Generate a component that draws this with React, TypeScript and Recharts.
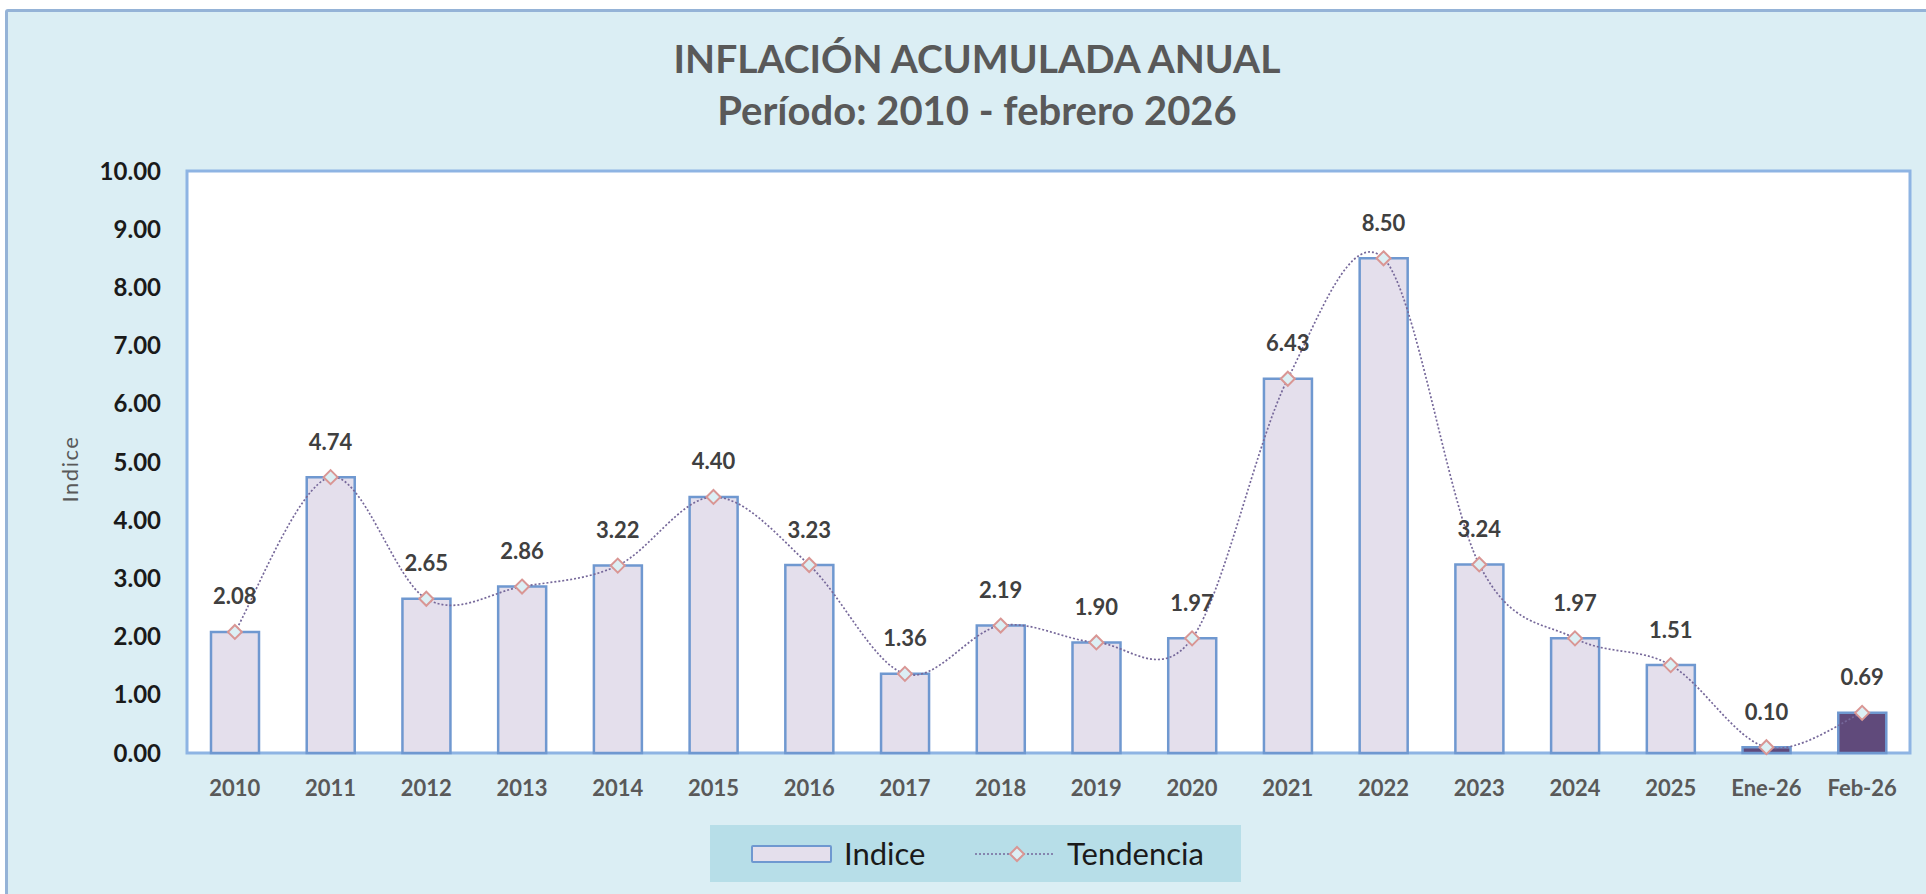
import React from 'react';
import { ComposedChart, Bar, Line, XAxis, YAxis, CartesianGrid, ReferenceArea, Cell, LabelList } from 'recharts';

const categories = ['2010', '2011', '2012', '2013', '2014', '2015', '2016', '2017', '2018', '2019', '2020', '2021', '2022', '2023', '2024', '2025', 'Ene-26', 'Feb-26'];
const indice = [2.08, 4.74, 2.65, 2.86, 3.22, 4.40, 3.23, 1.36, 2.19, 1.90, 1.97, 6.43, 8.50, 3.24, 1.97, 1.51, 0.10, 0.69];
const highlighted = ['Ene-26', 'Feb-26'];
const yTicks = [0, 1, 2, 3, 4, 5, 6, 7, 8, 9, 10];

const data = categories.map((c, i) => ({ cat: c, v: indice[i] }));

const FONT = 'Lato, Carlito, Calibri, sans-serif';

// Excel-style smoothed line (Catmull-Rom via cubic Bezier)
const excelCurve = (context: any) => {
  let pts: number[][] = [];
  return {
    areaStart() {},
    areaEnd() {},
    lineStart() { pts = []; },
    point(x: number, y: number) { pts.push([+x, +y]); },
    lineEnd() {
      const n = pts.length;
      if (!n) return;
      context.moveTo(pts[0][0], pts[0][1]);
      const t = 1 / 6;
      for (let i = 0; i < n - 1; i++) {
        const p0 = pts[i - 1] || pts[i];
        const p1 = pts[i];
        const p2 = pts[i + 1];
        const p3 = pts[i + 2] || p2;
        context.bezierCurveTo(
          p1[0] + (p2[0] - p0[0]) * t, p1[1] + (p2[1] - p0[1]) * t,
          p2[0] - (p3[0] - p1[0]) * t, p2[1] - (p3[1] - p1[1]) * t,
          p2[0], p2[1]
        );
      }
    },
  };
};

const Diamond = (props: any) => {
  const { cx, cy, index } = props;
  if (cx == null || cy == null) return <g key={'d' + index} />;
  const r = 7;
  return (
    <polygon
      key={'d' + index}
      points={`${cx},${cy - r} ${cx + r},${cy} ${cx},${cy + r} ${cx - r},${cy}`}
      fill="#DCEFF4"
      stroke="#D99694"
      strokeWidth={2}
    />
  );
};

const renderLabel = (p: any) => {
  const x = p.x ?? p.viewBox?.x;
  const y = p.y ?? p.viewBox?.y;
  if (x == null || y == null) return null;
  return (
    <text
      key={'l' + p.index}
      x={x}
      y={y - 36}
      textAnchor="middle"
      dominantBaseline="central"
      fontFamily={FONT}
      fontWeight={700}
      fontSize={22}
      fill="#404040"
    >
      {Number(p.value).toFixed(2)}
    </text>
  );
};

export default function App() {
  return (
    <div style={{ position: 'fixed', left: 0, top: 0, width: 1926, height: 894, overflow: 'hidden', background: '#fff' }}>
      <div
        style={{
          position: 'absolute', left: 5, top: 9, width: 2000, height: 1000,
          border: '3px solid #95B3D7', borderRadius: 3, background: '#DBEEF4', boxSizing: 'border-box',
        }}
      />
      <div style={{ position: 'absolute', left: 0, width: 1954, top: 36, height: 44, lineHeight: '44px', textAlign: 'center', fontFamily: FONT, fontWeight: 700, fontSize: 39, color: '#595959' }}>
        INFLACIÓN ACUMULADA ANUAL
      </div>
      <div style={{ position: 'absolute', left: 0, width: 1954, top: 88, height: 44, lineHeight: '44px', textAlign: 'center', fontFamily: FONT, fontWeight: 700, fontSize: 40, color: '#595959' }}>
        Período: 2010 - febrero 2026
      </div>
      <div style={{ position: 'absolute', left: 70, top: 469, width: 0, height: 0 }}>
        <div style={{ position: 'absolute', left: -60, top: -15, width: 120, height: 30, lineHeight: '30px', textAlign: 'center', transform: 'rotate(-90deg)', fontFamily: FONT, fontSize: 22, letterSpacing: 1.5, color: '#595959' }}>
          Indice
        </div>
      </div>
      <ComposedChart
        width={1926}
        height={894}
        data={data}
        margin={{ top: 171, right: 16, bottom: 101, left: 0 }}
        barCategoryGap={0}
        style={{ position: 'absolute', left: 0, top: 0 }}
      >
        <CartesianGrid horizontal={false} vertical={false} fill="#ffffff" />
        <XAxis
          dataKey="cat"
          interval={0}
          height={40}
          axisLine={false}
          tickLine={false}
          tickSize={0}
          tickMargin={27}
          tick={{ fontFamily: FONT, fontWeight: 700, fontSize: 22, fill: '#595959' }}
        />
        <YAxis
          domain={[0, 10]}
          ticks={yTicks}
          interval={0}
          width={187}
          axisLine={false}
          tickLine={false}
          tickSize={0}
          tickMargin={26}
          tickFormatter={(v: number) => v.toFixed(2)}
          tick={{ fontFamily: FONT, fontWeight: 700, fontSize: 24, fill: '#1A1A1A' }}
        />
        <Bar dataKey="v" barSize={48} stroke="#6F98D0" strokeWidth={2.5} isAnimationActive={false}>
          {data.map((d, i) => (
            <Cell key={i} fill={highlighted.includes(d.cat) ? '#604A7B' : '#E4DFEC'} />
          ))}
        </Bar>
        <ReferenceArea y1={0} y2={10} fill="none" stroke="#8EB4E3" strokeWidth={3} ifOverflow="visible" />
        <Line
          dataKey="v"
          type={excelCurve as any}
          stroke="#76689A"
          strokeWidth={1.7}
          strokeDasharray="2 2"
          dot={Diamond}
          activeDot={false}
          isAnimationActive={false}
        >
          <LabelList dataKey="v" content={renderLabel} />
        </Line>
      </ComposedChart>
      <div style={{ position: 'absolute', left: 710, top: 825, width: 531, height: 57, background: '#B7DEE8' }}>
        <div style={{ position: 'absolute', left: 41, top: 20, width: 81, height: 18, background: '#E4DFEC', border: '2px solid #6F98D0', borderRadius: 2, boxSizing: 'border-box' }} />
        <div style={{ position: 'absolute', left: 134, top: 0, height: 57, lineHeight: '57px', fontFamily: FONT, fontSize: 31, color: '#1A1A1A' }}>Indice</div>
        <svg style={{ position: 'absolute', left: 264, top: 19 }} width={82} height={20}>
          <line x1={1} y1={10} x2={81} y2={10} stroke="#76689A" strokeWidth={1.7} strokeDasharray="2 2" />
          <polygon points="43,3 50,10 43,17 36,10" fill="#DCEFF4" stroke="#D99694" strokeWidth={2} />
        </svg>
        <div style={{ position: 'absolute', left: 357, top: 0, height: 57, lineHeight: '57px', fontFamily: FONT, fontSize: 31, color: '#1A1A1A' }}>Tendencia</div>
      </div>
    </div>
  );
}
